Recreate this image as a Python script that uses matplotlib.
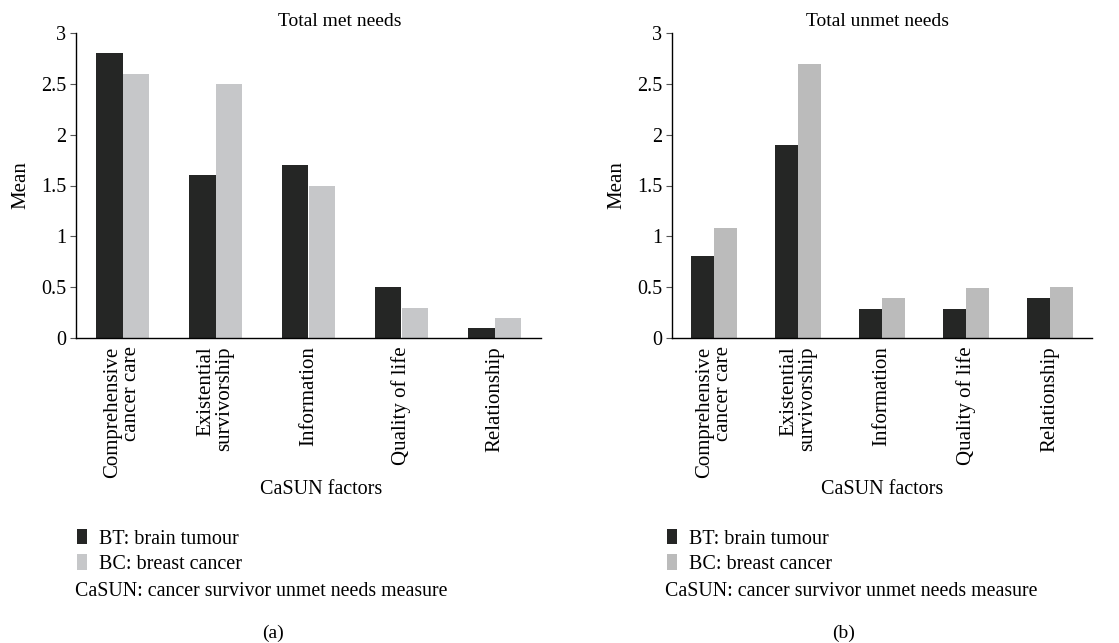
## Desc: CaSUN factors - met and unmet needs, brain tumour vs breast cancer
import numpy as np
import matplotlib
matplotlib.use("Agg")
import matplotlib.pyplot as plt

######Data#######
factors = ["Comprehensive\ncancer care", "Existential\nsurvivorship", "Information",
           "Quality of life", "Relationship"]
met_bt = [2.8, 1.6, 1.7, 0.5, 0.1]
met_bc = [2.6, 2.5, 1.5, 0.3, 0.2]
unmet_bt = [0.81, 1.9, 0.29, 0.29, 0.39]
unmet_bc = [1.08, 2.7, 0.39, 0.49, 0.5]
yticks = [0, 0.5, 1, 1.5, 2, 2.5, 3]
ytick_labels = ["0", "0.5", "1", "1.5", "2", "2.5", "3"]

######Style#######
plt.rcParams['font.family'] = ['Liberation Serif', 'DejaVu Serif']
plt.rcParams['font.size'] = 14
DARK = "#252625"
W, H = 1119, 643

def px(x, y):
    """pixel coords (from top left) to figure fraction"""
    return x / W, 1 - y / H

fig = plt.figure(figsize=(W / 100, H / 100), dpi=100)

def draw_panel(rect, bt, bc, light, width, title, title_x, xlab_x, letter, note_x, letter_x):
    ax = fig.add_axes(rect)
    x = np.arange(len(factors))
    b1 = ax.bar(x - width / 2, bt, width, color=DARK, label="BT: brain tumour")
    b2 = ax.bar(x + width / 2, bc, width, color=light, label="BC: breast cancer")
    ax.set_xlim(-0.5, len(factors) - 0.5)
    ax.set_ylim(0, 3)
    ax.set_yticks(yticks)
    ax.set_yticklabels(ytick_labels, fontsize=14.5)
    ax.set_xticks(x)
    ax.set_xticklabels(factors, rotation=90, va="top", ha="center",
                       multialignment="right", linespacing=1.0, fontsize=15)
    ax.tick_params(axis="x", length=0, pad=6)
    ax.tick_params(axis="y", length=4, width=0.8, color="#555555", pad=3)
    for s in ["top", "right"]:
        ax.spines[s].set_visible(False)
    ax.spines["left"].set_linewidth(1.0)
    ax.spines["bottom"].set_linewidth(1.0)
    ax.set_ylabel("Mean", labelpad=8, fontsize=15)
    # title and x label are a bit off centre in the original
    fig.text(*px(title_x, 21), title, ha="center", va="center")
    fig.text(*px(xlab_x, 489), "CaSUN factors", ha="center", va="center", fontsize=14.5)

    fig.legend(handles=[b1, b2], loc="upper left",
               bbox_to_anchor=px(note_x + 2, 529), frameon=False,
               handlelength=0.5, handleheight=0.8, handletextpad=0.6,
               labelspacing=0.28, borderaxespad=0, borderpad=0, fontsize=14.5)
    fig.text(*px(note_x, 591), "CaSUN: cancer survivor unmet needs measure",
             ha="left", va="center", fontsize=14.3)
    fig.text(*px(letter_x, 633), letter, ha="center", va="center")
    return ax

ax1 = draw_panel([76 / W, 1 - 338 / H, 465 / W, 305 / H], met_bt, met_bc,
                 "#c6c7c9", 0.287, "Total met needs", 340, 321, "(a)", 75, 273)
ax2 = draw_panel([672 / W, 1 - 338 / H, 420 / W, 305 / H], unmet_bt, unmet_bc,
                 "#bbbbbb", 0.275, "Total unmet needs", 877, 882, "(b)", 665, 844)

fig.savefig("out.png", dpi=100)
